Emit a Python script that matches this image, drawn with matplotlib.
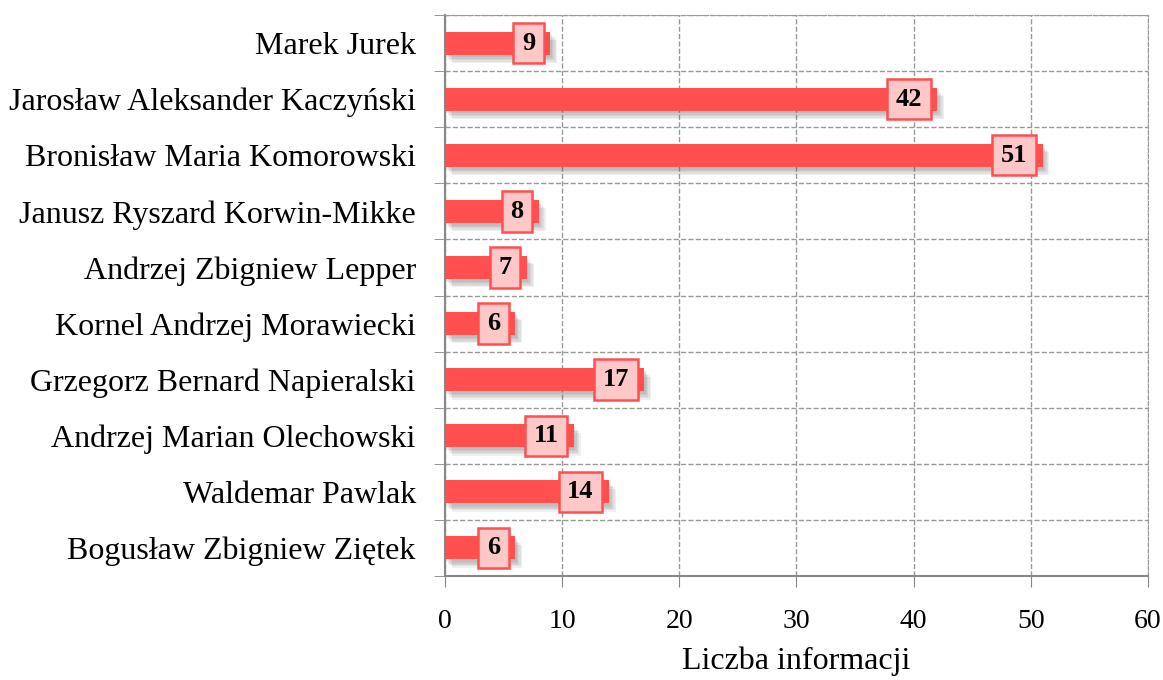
import numpy as np
import matplotlib.pyplot as plt
import matplotlib.patheffects as pe

names = ["Marek Jurek", "Jarosław Aleksander Kaczyński", "Bronisław Maria Komorowski",
         "Janusz Ryszard Korwin-Mikke", "Andrzej Zbigniew Lepper", "Kornel Andrzej Morawiecki",
         "Grzegorz Bernard Napieralski", "Andrzej Marian Olechowski", "Waldemar Pawlak",
         "Bogusław Zbigniew Ziętek"]
counts = [9, 42, 51, 8, 7, 6, 17, 11, 14, 6]

plt.rcParams['font.family'] = ['Liberation Serif', 'DejaVu Serif']

fig = plt.figure(figsize=(11.63, 6.8), dpi=100)
ax = fig.add_axes([0.3826, 0.1529, 0.6045, 0.825])

y = np.arange(len(names))
bars = ax.barh(y, counts, height=0.41, color='#ff4f4f', zorder=3)
# soft shadow: a few faint offset copies
shadow = [pe.SimplePatchShadow(offset=(k, -k - 1), shadow_rgbFace='#555555', alpha=0.09)
          for k in (1, 2, 3, 4, 5)]
for b in bars:
    b.set_path_effects(shadow + [pe.Normal()])

for yi, v in zip(y, counts):
    ax.annotate(str(v), (v, yi), xytext=(-11, 0), textcoords='offset points',
                ha='right', va='center', fontsize=19, fontweight='bold', zorder=5,
                bbox=dict(boxstyle='square,pad=0.33', fc='#ffc8c8', ec='#ff4f4f', lw=1.8))

ax.set_xlim(0, 60)
ax.set_ylim(len(names) - 0.5, -0.5)
ax.set_xticks(range(0, 61, 10))
ax.set_yticks(y)
ax.set_yticklabels(names)
ax.set_yticks(np.arange(-0.5, len(names), 1), minor=True)
ax.tick_params(axis='y', which='major', length=0, pad=21, labelsize=23)
ax.tick_params(axis='y', which='minor', length=8, color='#888888', direction='out')
ax.tick_params(axis='x', length=8, color='#888888', labelsize=20, pad=16)
ax.grid(axis='x', which='major', linestyle='--', color='#999999', lw=1, zorder=0)
ax.grid(axis='y', which='minor', linestyle='--', color='#999999', lw=1, zorder=0)
for s in ['top', 'right']:
    ax.spines[s].set_linestyle('--')
    ax.spines[s].set_color('#999999')
for s in ['left', 'bottom']:
    ax.spines[s].set_color('#888888')
    ax.spines[s].set_linewidth(1.5)
ax.set_xlabel("Liczba informacji", fontsize=23, labelpad=9)

fig.savefig("out.png", dpi=100)
